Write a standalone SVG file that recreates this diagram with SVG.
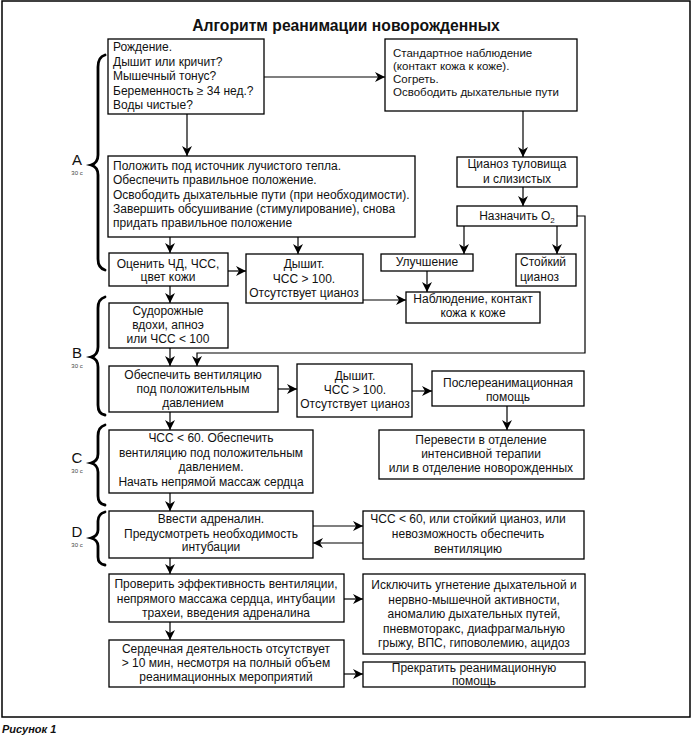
<svg xmlns="http://www.w3.org/2000/svg" width="693" height="735" viewBox="0 0 693 735">
<style>
.bg{fill:#fff}
.frame{fill:none;stroke:#000;stroke-width:1.5}
.box{fill:#fff;stroke:#000;stroke-width:1.3}
.t{font-family:"Liberation Sans",Arial,sans-serif;font-size:12px;fill:#111}
.s{font-size:11.5px}
.c{text-anchor:middle}
.ttl{font-family:"Liberation Sans",Arial,sans-serif;font-size:15.7px;font-weight:bold;text-anchor:middle;fill:#111}
.lbl{font-family:"Liberation Sans",Arial,sans-serif;font-size:15px;text-anchor:middle;fill:#111}
.sec{font-family:"Liberation Sans",Arial,sans-serif;font-size:6px;text-anchor:middle;fill:#444}
.cap{font-family:"Liberation Sans",Arial,sans-serif;font-size:11px;font-weight:bold;font-style:italic;fill:#111}
.ln{fill:none;stroke:#000;stroke-width:1.2}
.arr{marker-end:url(#ah)}
.brace{fill:none;stroke:#000;stroke-width:2.8;stroke-linecap:round}
</style>
<defs>
<marker id="ah" markerUnits="userSpaceOnUse" markerWidth="11" markerHeight="10" refX="10" refY="5" orient="auto">
<path d="M0,0 L10,5 L0,10 L3,5 z" fill="#000"/>
</marker>
</defs>
<rect class="bg" x="0" y="0" width="693" height="735"/>
<rect class="frame" x="2" y="1" width="688" height="716"/>
<text class="ttl" x="346" y="31">Алгоритм реанимации новорожденных</text>

<g id="braces">
<path class="brace" d="M105,55 Q98,57 98,67 V155 Q98,163 91,165 Q98,167 98,175 V259 Q98,268 105,270"/>
<path class="brace" d="M105,297 Q98,299 98,308 V347 Q98,355 91,357 Q98,359 98,367 V405 Q98,414 105,415"/>
<path class="brace" d="M105,425 Q98,427 98,436 V454 Q98,461 91,463 Q98,465 98,472 V496 Q98,504 105,505"/>
<path class="brace" d="M105,512 Q98,514 98,521 V530 Q98,536 91,538 Q98,540 98,546 V557 Q98,564 105,565"/>
<text class="lbl" x="77" y="165">A</text><text class="sec" x="77" y="175">30 с</text>
<text class="lbl" x="77" y="358">B</text><text class="sec" x="77" y="368">30 с</text>
<text class="lbl" x="77" y="463">C</text><text class="sec" x="77" y="473">30 с</text>
<text class="lbl" x="77" y="537">D</text><text class="sec" x="77" y="547">30 с</text>
</g>

<g id="connectors">
<path class="ln arr" d="M264,77 H385"/>
<path class="ln arr" d="M523,111 V157"/>
<path class="ln arr" d="M523,187 V206"/>
<path class="ln arr" d="M464,226 V254"/>
<path class="ln arr" d="M557,226 V254"/>
<path class="ln arr" d="M427,271 V292"/>
<path class="ln arr" d="M577,216 H585 V353 H197 V366"/>
<path class="ln arr" d="M187,114 V156"/>
<path class="ln arr" d="M170,237 V253"/>
<path class="ln arr" d="M298,237 V254"/>
<path class="ln arr" d="M228,271 H246"/>
<path class="ln arr" d="M363,300 H406"/>
<path class="ln arr" d="M170,286 V303"/>
<path class="ln arr" d="M170,348 V366"/>
<path class="ln arr" d="M278,389 H297"/>
<path class="ln arr" d="M412,391 H432"/>
<path class="ln arr" d="M507,406 V430"/>
<path class="ln arr" d="M170,412 V430"/>
<path class="ln arr" d="M170,493 V511"/>
<path class="ln arr" d="M313,526 H363"/>
<path class="ln arr" d="M363,543 H313"/>
<path class="ln arr" d="M170,558 V574"/>
<path class="ln arr" d="M344,599 H363"/>
<path class="ln arr" d="M170,622 V640"/>
<path class="ln arr" d="M344,674 H363"/>
</g>

<g id="n-birth">
<rect class="box" x="108" y="39" width="156" height="75"/>
<text class="t" x="113" y="51">Рождение.</text>
<text class="t" x="113" y="65.5">Дышит или кричит?</text>
<text class="t" x="113" y="80">Мышечный тонус?</text>
<text class="t" x="113" y="94.5">Беременность ≥ 34 нед.?</text>
<text class="t" x="113" y="109">Воды чистые?</text>
</g>

<g id="n-standard">
<rect class="box" x="385" y="39" width="192" height="72"/>
<text class="t s" x="393" y="57">Стандартное наблюдение</text>
<text class="t s" x="393" y="70">(контакт кожа к коже).</text>
<text class="t s" x="393" y="83">Согреть.</text>
<text class="t s" x="393" y="96">Освободить дыхательные пути</text>
</g>

<g id="n-cyanosis">
<rect class="box" x="457" y="157" width="120" height="30"/>
<text class="t c" x="517" y="168">Цианоз туловища</text>
<text class="t c" x="517" y="183">и слизистых</text>
</g>

<g id="n-o2">
<rect class="box" x="457" y="206" width="120" height="20"/>
<text class="t c" x="517" y="220">Назначить O<tspan font-size="8" dy="3">2</tspan></text>
</g>

<g id="n-improve">
<rect class="box" x="381" y="254" width="92" height="17"/>
<text class="t c" x="427" y="266">Улучшение</text>
</g>

<g id="n-persist">
<rect class="box" x="516" y="254" width="60" height="32"/>
<text class="t" x="520" y="266">Стойкий</text>
<text class="t" x="520" y="281">цианоз</text>
</g>

<g id="n-observe">
<rect class="box" x="406" y="292" width="134" height="31"/>
<text class="t c" x="473" y="303">Наблюдение, контакт</text>
<text class="t c" x="473" y="317">кожа к коже</text>
</g>

<g id="n-warm">
<rect class="box" x="108" y="156" width="307" height="81"/>
<text class="t" x="113" y="170">Положить под источник лучистого тепла.</text>
<text class="t" x="113" y="184.3">Обеспечить правильное положение.</text>
<text class="t" x="113" y="198.6">Освободить дыхательные пути (при необходимости).</text>
<text class="t" x="113" y="212.9">Завершить обсушивание (стимулирование), снова</text>
<text class="t" x="113" y="227.2">придать правильное положение</text>
</g>

<g id="n-assess">
<rect class="box" x="109" y="253" width="119" height="33"/>
<text class="t c" x="168" y="268">Оценить ЧД, ЧСС,</text>
<text class="t c" x="168" y="281">цвет кожи</text>
</g>

<g id="n-breathes1">
<rect class="box" x="246" y="254" width="117" height="49"/>
<text class="t c" x="304" y="268">Дышит.</text>
<text class="t c" x="304" y="282.5">ЧСС &gt; 100.</text>
<text class="t c" x="304" y="297">Отсутствует цианоз</text>
</g>

<g id="n-gasping">
<rect class="box" x="109" y="303" width="119" height="45"/>
<text class="t c" x="168" y="315">Судорожные</text>
<text class="t c" x="168" y="329">вдохи, апноэ</text>
<text class="t c" x="168" y="343">или ЧСС &lt; 100</text>
</g>

<g id="n-ppv">
<rect class="box" x="109" y="366" width="169" height="46"/>
<text class="t c" x="193" y="379">Обеспечить вентиляцию</text>
<text class="t c" x="193" y="393">под положительным</text>
<text class="t c" x="193" y="407">давлением</text>
</g>

<g id="n-breathes2">
<rect class="box" x="297" y="364" width="115" height="53"/>
<text class="t c" x="355" y="380">Дышит.</text>
<text class="t c" x="355" y="394">ЧСС &gt; 100.</text>
<text class="t c" x="355" y="408">Отсутствует цианоз</text>
</g>

<g id="n-post">
<rect class="box" x="432" y="371" width="152" height="35"/>
<text class="t c" x="508" y="387">Послереанимационная</text>
<text class="t c" x="508" y="401">помощь</text>
</g>

<g id="n-transfer">
<rect class="box" x="379" y="430" width="205" height="49"/>
<text class="t c" x="481" y="444">Перевести в отделение</text>
<text class="t c" x="481" y="458">интенсивной терапии</text>
<text class="t c" x="481" y="472">или в отделение новорожденных</text>
</g>

<g id="n-c">
<rect class="box" x="109" y="430" width="204" height="63"/>
<text class="t c" x="211" y="442">ЧСС &lt; 60. Обеспечить</text>
<text class="t c" x="211" y="457">вентиляцию под положительным</text>
<text class="t c" x="211" y="471">давлением.</text>
<text class="t c" x="211" y="486">Начать непрямой массаж сердца</text>
</g>

<g id="n-d">
<rect class="box" x="109" y="511" width="204" height="47"/>
<text class="t c" x="211" y="523">Ввести адреналин.</text>
<text class="t c" x="211" y="538">Предусмотреть необходимость</text>
<text class="t c" x="211" y="551">интубации</text>
</g>

<g id="n-hr60">
<rect class="box" x="363" y="511" width="221" height="48"/>
<text class="t c" x="468" y="523">ЧСС &lt; 60, или стойкий цианоз, или</text>
<text class="t c" x="468" y="538">невозможность обеспечить</text>
<text class="t c" x="468" y="553">вентиляцию</text>
</g>

<g id="n-check">
<rect class="box" x="109" y="574" width="235" height="48"/>
<text class="t c" x="226" y="588">Проверить эффективность вентиляции,</text>
<text class="t c" x="226" y="603">непрямого массажа сердца, интубации</text>
<text class="t c" x="226" y="617">трахеи, введения адреналина</text>
</g>

<g id="n-exclude">
<rect class="box" x="363" y="574" width="222" height="80"/>
<text class="t c" x="474" y="589">Исключить угнетение дыхательной и</text>
<text class="t c" x="474" y="603.5">нервно-мышечной активности,</text>
<text class="t c" x="474" y="618">аномалию дыхательных путей,</text>
<text class="t c" x="474" y="632.5">пневмоторакс, диафрагмальную</text>
<text class="t c" x="474" y="647">грыжу, ВПС, гиповолемию, ацидоз</text>
</g>

<g id="n-noheart">
<rect class="box" x="109" y="640" width="235" height="47"/>
<text class="t c" x="226" y="653">Сердечная деятельность отсутствует</text>
<text class="t c" x="226" y="667">&gt; 10 мин, несмотря на полный объем</text>
<text class="t c" x="226" y="681">реанимационных мероприятий</text>
</g>

<g id="n-stop">
<rect class="box" x="363" y="662" width="222" height="25"/>
<text class="t c" x="474" y="672">Прекратить реанимационную</text>
<text class="t c" x="474" y="684.5">помощь</text>
</g>

<text class="cap" x="2" y="733">Рисунок 1</text>
</svg>
